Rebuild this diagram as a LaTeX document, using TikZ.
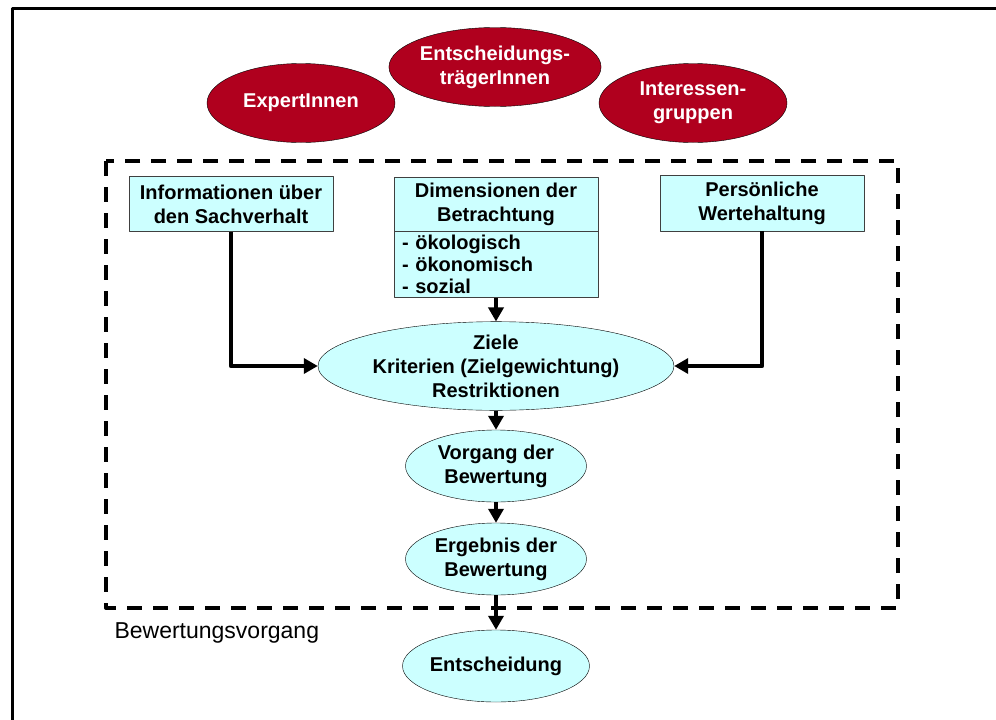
\documentclass[tikz,border=0pt]{standalone}
\usepackage{fontspec}
\setmainfont{Liberation Sans}
\usetikzlibrary{shapes.geometric,arrows.meta}
\definecolor{dunkelrot}{RGB}{176,0,30}
\definecolor{hellcyan}{RGB}{204,255,255}
\begin{document}
\begin{tikzpicture}[x=1pt,y=-1pt,line join=round,
		fett/.style={font=\bfseries\fontsize{20}{24}\selectfont},
		akteur/.style={ellipse,draw=black,thin,fill=dunkelrot,text=white,fett,align=center,inner sep=0pt,minimum width=188pt,minimum height=79pt},
		kasten/.style={rectangle,draw=black!75,thin,fill=hellcyan,fett,align=center,inner sep=0pt,minimum width=204pt},
		schritt/.style={ellipse,draw=black,thin,fill=hellcyan,fett,align=center,inner sep=0pt,minimum width=181pt,minimum height=72pt},
		pfeil/.style={line width=4.5pt,-{Triangle[length=14pt,width=15pt]}}]
		\useasboundingbox (0,0) rectangle (996,720);
		\draw[line width=3pt] (12,720)--(12,8)--(996,8);
		% Akteure oben
		\node[akteur] (experten) at (301,103) {ExpertInnen};
		\node[akteur] (entscheider) at (495,67) {Entscheidungs-\\trägerInnen};
		\node[akteur] (gruppen) at (693,103) {Interessen-\\gruppen};
		% Rahmen Bewertungsvorgang
		\draw[line width=4pt,dash pattern=on 15pt off 11pt] (106,161) rectangle (898,608);
		\node[anchor=west,font=\fontsize{23}{27}\selectfont] (rahmentitel) at (111,633) {Bewertungsvorgang};
		% Eingaben
		\node[kasten,minimum height=55pt] (info) at (231,204) {Informationen über\\den Sachverhalt};
		\node[kasten,minimum height=54pt] (dimkopf) at (496,204) {Dimensionen der\\Betrachtung};
		\node[kasten,anchor=north,minimum height=66pt,inner xsep=8pt,text width=188pt,align=left,font=\bfseries\fontsize{20}{22}\selectfont] (dimliste) at (dimkopf.south) {- ökologisch\\- ökonomisch\\- sozial};
		\node[kasten,minimum height=56pt] (werte) at (762,203) {Persönliche\\Wertehaltung};
		% Ablauf
		\node[schritt,minimum width=356pt,minimum height=84pt] (ziele) at (496,366) {Ziele\\Kriterien (Zielgewichtung)\\Restriktionen};
		\node[schritt] (vorgang) at (496,466) {Vorgang der\\Bewertung};
		\node[schritt] (ergebnis) at (496,559) {Ergebnis der\\Bewertung};
		\node[schritt] (entscheidung) at (496,666) {Entscheidung};
		\draw[pfeil] (info.south) |- (ziele.west);
		\draw[pfeil] (werte.south) |- (ziele.east);
		\draw[pfeil] (dimliste) -- (ziele);
		\foreach \a/\b in {ziele/vorgang,vorgang/ergebnis,ergebnis/entscheidung}
		\draw[pfeil] (\a) -- (\b);
\end{tikzpicture}
\end{document}
